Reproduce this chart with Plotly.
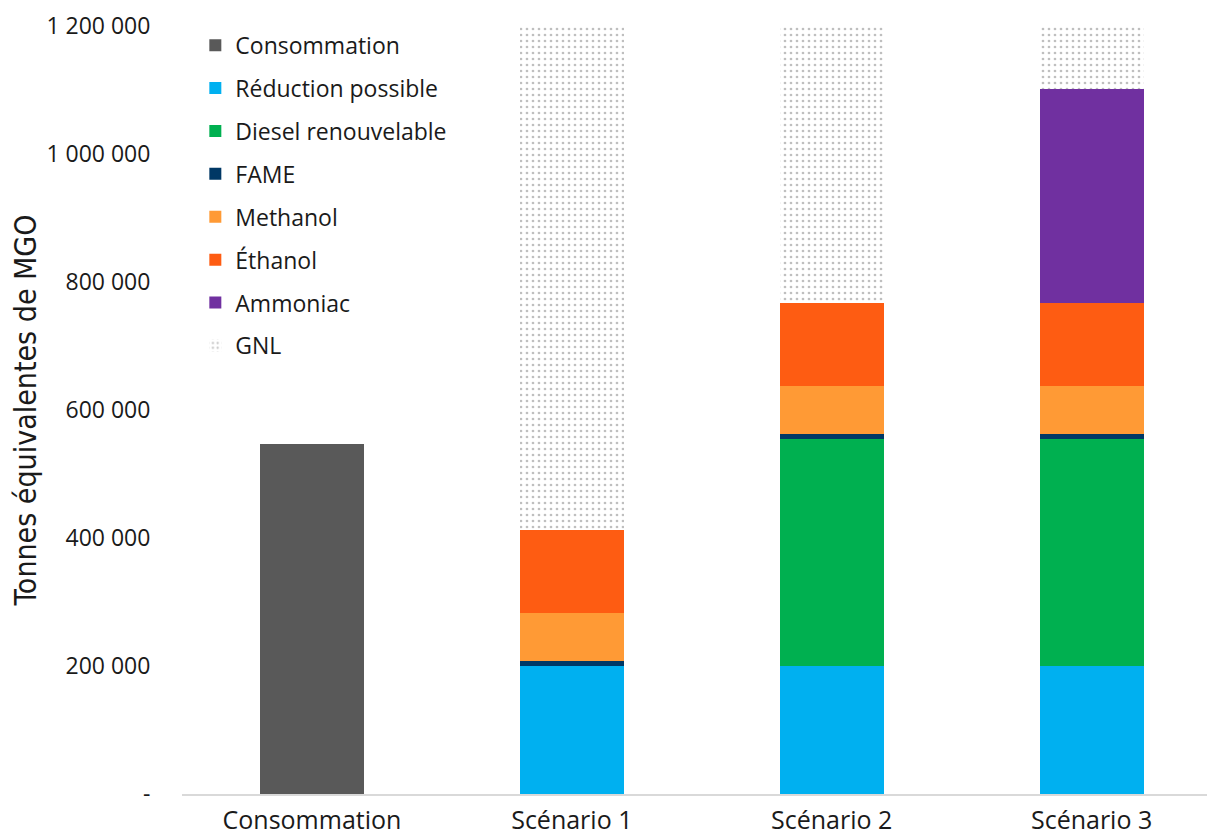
import plotly.graph_objects as go

# Categories and stacked series (tonnes MGO equivalent)
categories = ["Consommation", "Scénario 1", "Scénario 2", "Scénario 3"]
consommation = [547000, None, None, None]
reduction = [None, 200000, 200000, 200000]
diesel = [None, 0, 354000, 354000]
fame = [None, 8000, 8000, 8000]
methanol = [None, 75000, 75000, 75000]
ethanol = [None, 130000, 130000, 130000]
ammoniac = [None, 0, 0, 334000]
gnl = [None, 787000, 433000, 99000]

tick_vals = [0, 200000, 400000, 600000, 800000, 1000000, 1200000]
tick_text = ["-", "200 000", "400 000", "600 000", "800 000", "1 000 000", "1 200 000"]

series = [
    ("Consommation", consommation, "#595959"),
    ("Réduction possible", reduction, "#00B0F0"),
    ("Diesel renouvelable", diesel, "#00B050"),
    ("FAME", fame, "#003865"),
    ("Methanol", methanol, "#FF9A35"),
    ("Éthanol", ethanol, "#FE5C12"),
    ("Ammoniac", ammoniac, "#7030A0"),
]

fig = go.Figure()
for name, vals, color in series:
    fig.add_trace(go.Bar(
        name=name, x=categories, y=vals, legendgroup=name,
        marker=dict(color=color, line=dict(width=0)),
    ))

fig.add_trace(go.Bar(
    name="GNL", x=categories, y=gnl, legendgroup="GNL",
    marker=dict(
        color="white", line=dict(width=0),
        pattern=dict(shape=".", fgcolor="#808080", bgcolor="white",
                     size=6, solidity=0.16, fillmode="overlay"),
    ),
))

sans = "Open Sans, Lato, sans-serif"
narrow = "Liberation Sans Narrow, DejaVu Sans Condensed, Roboto, sans-serif"

fig.update_layout(
    width=1207, height=838,
    margin=dict(l=182, r=0, t=26, b=44),
    barmode="stack", bargap=0.6,
    plot_bgcolor="white", paper_bgcolor="white",
    font=dict(family=sans, size=21, color="#1a1a1a"),
    showlegend=True,
    legend=dict(
        x=0.013, y=1.003, xanchor="left", yanchor="top",
        bgcolor="rgba(0,0,0,0)", font=dict(family=sans, size=23),
        traceorder="grouped", tracegroupgap=10, itemwidth=30,
    ),
    xaxis=dict(
        range=[-0.5, 3.444], showgrid=False, showline=True, automargin=False,
        linecolor="#d9d9d9", linewidth=2, ticks="outside", ticklen=3,
        tickcolor="rgba(0,0,0,0)",
        tickfont=dict(family=sans, size=25, color="#1a1a1a"),
    ),
    yaxis=dict(
        range=[0, 1200000], tickvals=tick_vals, ticktext=tick_text,
        showgrid=False, zeroline=False, showline=False, automargin=False,
        ticks="outside", ticklen=26, tickcolor="rgba(0,0,0,0)",
        tickfont=dict(family=sans, size=23, color="#1a1a1a"),
        title=dict(text="Tonnes équivalentes de MGO", standoff=0,
                   font=dict(family=narrow, size=30, color="#1a1a1a")),
    ),
)

fig.write_html("out.html")
